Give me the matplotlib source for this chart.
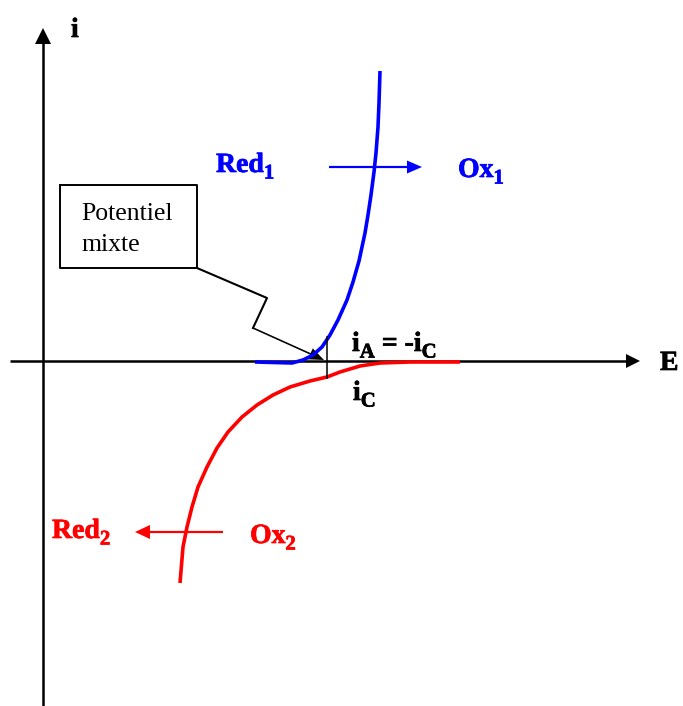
import matplotlib.pyplot as plt
import matplotlib.patheffects as pe

SERIF = 'Liberation Serif'
BLUE = '#0000ff'
RED = '#ff0000'

# anodic branch (Red1 -> Ox1); E / i in drawing units, origin where the axes cross
blue_E = [212, 249, 260, 270, 279, 287, 295, 304, 310, 316, 322, 325, 328, 331, 333, 335, 336, 337]
blue_i = [-1, -2, 1, 6, 14, 26, 41, 61, 79, 100, 128, 146, 166, 189, 208, 234, 258, 290]

# cathodic branch (Ox2 -> Red2)
red_E = [137, 140, 144, 149, 155, 164, 174, 185, 199, 214, 230, 247, 267, 284,
         297, 317, 337, 367, 417]
red_i = [-222, -186, -166, -146, -126, -106, -87, -71, -56, -44, -34, -26, -20, -16,
         -11, -5, -2, -1, -1]

# mixed potential and the current marker through it
E_mix = 284
i_marker = [-17, 24]

# callout box and its zig-zag leader
box_E = [17, 154, 154, 17, 17]
box_i = [176, 176, 93, 93, 176]
leader_E = [154, 224, 210]
leader_i = [93, 63, 33]
leader_tip = (281, 1)


def heavy(color):
    return [pe.withStroke(linewidth=0.5, foreground=color)]


def chem_label(ax, x, y, parts, color='black', size=20, sub_size=15):
    """Write bold text with subscripts; parts = [(text, is_sub), ...]."""
    main = None
    prev = None
    for s, is_sub in parts:
        if prev is None:
            t = ax.text(x, y, s, fontsize=size, family=SERIF, fontweight='bold',
                        color=color, va='baseline', path_effects=heavy(color))
            main = t
        else:
            t = ax.annotate(s, xy=(1, 0), xycoords=(prev, main),
                            xytext=(0, -4 if is_sub else 0), textcoords='offset points',
                            fontsize=sub_size if is_sub else size, family=SERIF,
                            fontweight='bold', color=color, va='bottom', ha='left',
                            path_effects=heavy(color))
        prev = t
    return main


fig = plt.figure(figsize=(6.83, 7.06), dpi=100)
ax = fig.add_axes([0, 0, 1, 1])
ax.set_xlim(-43, 640)
ax.set_ylim(-345, 361)
ax.axis('off')

# axes with arrow heads
ax.plot([0, 0], [-345, 318], color='black', lw=1.8, solid_capstyle='butt')
ax.arrow(0, 300, 0, 33, width=0, head_width=16, head_length=16,
         length_includes_head=True, color='black', lw=0)
ax.plot([-33, 585], [0, 0], color='black', lw=1.8, solid_capstyle='butt')
ax.arrow(570, 0, 27, 0, width=0, head_width=14, head_length=14,
         length_includes_head=True, color='black', lw=0)

# current-potential curves
ax.plot(blue_E, blue_i, color=BLUE, lw=2.6, solid_capstyle='butt', solid_joinstyle='round')
ax.plot(red_E, red_i, color=RED, lw=2.6, solid_capstyle='butt', solid_joinstyle='round')

ax.plot([E_mix, E_mix], i_marker, color='black', lw=1.1)

# direction arrows
ax.arrow(286, 194, 93, 0, width=2.2, head_width=13, head_length=15,
         length_includes_head=True, color=BLUE, lw=0)
ax.arrow(180, -171, -88, 0, width=2.2, head_width=14, head_length=15,
         length_includes_head=True, color=RED, lw=0)

# callout
ax.plot(box_E, box_i, color='black', lw=1.4)
ax.plot(leader_E, leader_i, color='black', lw=1.5)
ax.arrow(leader_E[-1], leader_i[-1], leader_tip[0] - leader_E[-1],
         leader_tip[1] - leader_i[-1], width=1.6, head_width=12, head_length=15,
         length_includes_head=True, color='black', lw=0)

ax.text(38, 141, 'Potentiel', fontsize=18.5, family=SERIF)
ax.text(38, 110, 'mixte', fontsize=18.5, family=SERIF)

ax.text(28, 324, 'i', fontsize=20, family=SERIF, fontweight='bold',
        path_effects=heavy('black'))
ax.text(617, -9, 'E', fontsize=20, family=SERIF, fontweight='bold',
        path_effects=heavy('black'))

chem_label(ax, 173, 189, [('Red', False), ('1', True)], color=BLUE)
chem_label(ax, 415, 184, [('Ox', False), ('1', True)], color=BLUE)
chem_label(ax, 9, -177, [('Red', False), ('2', True)], color=RED)
chem_label(ax, 207, -182, [('Ox', False), ('2', True)], color=RED)

chem_label(ax, 309, 10, [('i', False), ('A', True), (' = -i', False), ('C', True)])
chem_label(ax, 310, -39, [('i', False), ('C', True)])

fig.savefig('out.png', dpi=100)
